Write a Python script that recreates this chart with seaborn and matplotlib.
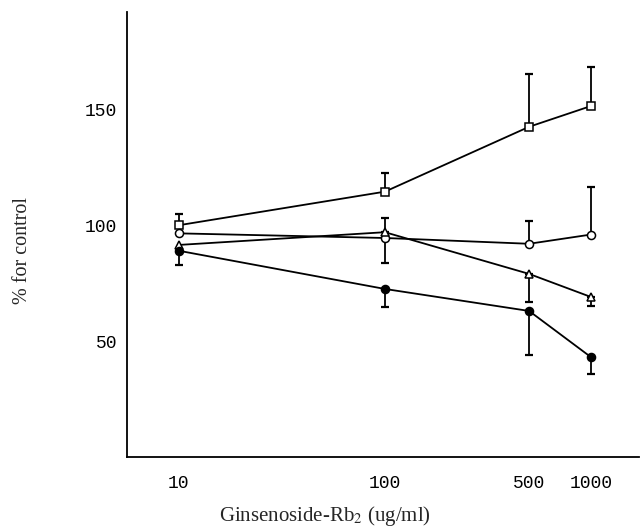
import numpy as np
import pandas as pd
import matplotlib
matplotlib.use('Agg')
import matplotlib.pyplot as plt
import seaborn as sns

# doses (ug/ml)
dose = [10, 100, 500, 1000]

# % for control
square_mean = [100, 114.5, 142.5, 151.5]
square_err = [5, 8, 23, 17]
square_dir = [1, 1, 1, 1]

ocircle_mean = [96.5, 94.5, 92, 96]
ocircle_err = [0, 11, 10, 20.5]
ocircle_dir = [1, -1, 1, 1]

triangle_mean = [91.5, 97, 79, 69]
triangle_err = [0, 6, 12, 4]
triangle_dir = [1, 1, -1, -1]

fcircle_mean = [89, 72.5, 63, 43]
fcircle_err = [6, 8, 19, 7]
fcircle_dir = [-1, -1, -1, -1]

series = [
    ("square", square_mean, square_err, square_dir, "s", "white"),
    ("open circle", ocircle_mean, ocircle_err, ocircle_dir, "o", "white"),
    ("triangle", triangle_mean, triangle_err, triangle_dir, "^", "white"),
    ("filled circle", fcircle_mean, fcircle_err, fcircle_dir, "o", "black"),
]

sns.set_theme(style="white")
plt.rcParams['font.family'] = ['Liberation Serif', 'DejaVu Sans']
plt.rcParams['mathtext.fontset'] = 'stix'

fig = plt.figure(figsize=(6.4, 5.27), dpi=100)
ax = fig.add_axes([0.198, 0.133, 0.80, 0.844])

for name, mean, err, sign, mk, fc in series:
    df = pd.DataFrame({"dose": dose, "pct": mean})
    sns.lineplot(data=df, x="dose", y="pct", ax=ax, color="black", lw=1.3,
                 marker=mk, markersize=5.8, markerfacecolor=fc,
                 markeredgecolor="black", markeredgewidth=1.1, zorder=3)
    err = np.array(err, dtype=float)
    sign = np.array(sign)
    lower = np.where(sign < 0, err, 0)
    upper = np.where(sign > 0, err, 0)
    keep = err > 0
    ax.errorbar(np.array(dose)[keep], np.array(mean)[keep],
                yerr=[lower[keep], upper[keep]], fmt="none",
                ecolor="black", elinewidth=1.3, capsize=3, capthick=1.6, zorder=2)

ax.set_xscale("log")
ax.set_xlim(5.6, 1700)
ax.set_ylim(0, 192)
ax.set_xticks(dose)
ax.set_xticklabels(["10", "100", "500", "1000"])
ax.minorticks_off()
ax.set_yticks([50, 100, 150])
ax.set_yticklabels(["50", "100", "150"])

for lab in ax.get_xticklabels() + ax.get_yticklabels():
    lab.set_family("Liberation Mono")
    lab.set_fontsize(13)

ax.tick_params(axis="x", direction="in", length=4, width=1, pad=13, colors="black")
ax.tick_params(axis="y", direction="inout", length=6, width=1, pad=4, colors="black")

for s in ["top", "right"]:
    ax.spines[s].set_visible(False)
for s in ["left", "bottom"]:
    ax.spines[s].set_color("black")
    ax.spines[s].set_linewidth(1.3)

ax.set_xlabel(r"Ginsenoside-Rb$_2$ (ug/ml)", fontsize=15)
ax.xaxis.set_label_coords(0.387, -0.105)
ax.set_ylabel("% for control", fontsize=14.5)
ax.yaxis.set_label_coords(-0.185, 0.465)

fig.savefig("out.png", dpi=100)
